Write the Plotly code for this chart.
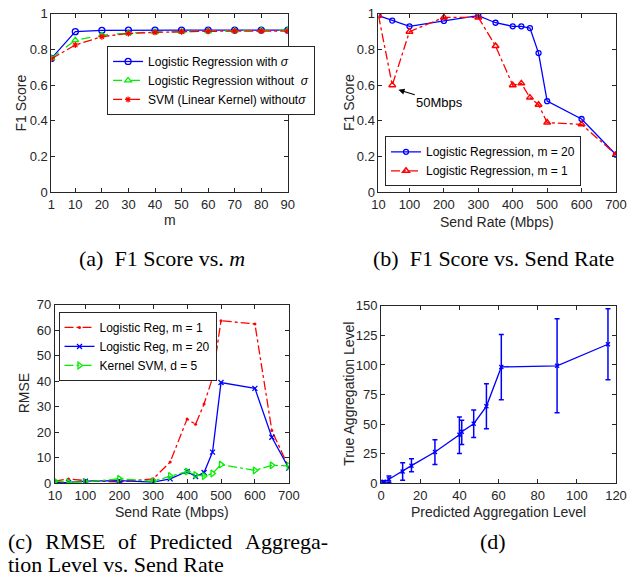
import plotly.graph_objects as go

W, H = 637, 585

# ---------------- data ----------------
# (a) F1 score vs m
m_vals = [1, 10, 20, 30, 40, 50, 60, 70, 80, 90]
lr_with_sigma = [0.75, 0.90, 0.907, 0.909, 0.909, 0.909, 0.909, 0.909, 0.909, 0.909]
lr_without_sigma = [0.752, 0.852, 0.88, 0.892, 0.898, 0.90, 0.903, 0.905, 0.907, 0.909]
svm_without_sigma = [0.748, 0.825, 0.872, 0.89, 0.896, 0.90, 0.902, 0.903, 0.903, 0.903]

# (b) F1 score vs send rate
rate_b = [10, 50, 100, 200, 300, 350, 400, 425, 450, 475, 500, 600, 700]
f1_m20 = [0.99, 0.962, 0.93, 0.96, 0.99, 0.95, 0.93, 0.93, 0.92, 0.78, 0.51, 0.41, 0.21]
f1_m1 = [0.99, 0.60, 0.90, 0.98, 0.98, 0.82, 0.60, 0.61, 0.53, 0.49, 0.39, 0.38, 0.21]

# (c) RMSE vs send rate
rate_c = [10, 50, 100, 200, 300, 350, 400, 425, 450, 475, 500, 600, 650, 700]
rmse_m1 = [0.76, 1.66, 1.0, 0.5, 1.7, 8.3, 25.2, 23.1, 31.1, 41.3, 63.8, 62.5, 20.7, 6.1]
rmse_m20 = [0.25, 0.3, 0.8, 1.0, 0.4, 1.7, 4.6, 2.6, 4.2, 12.2, 39.5, 37.2, 18.0, 5.9]
rmse_svm = [0.8, 0.3, 0.5, 1.7, 0.8, 2.8, 4.6, 3.2, 2.8, 3.8, 7.3, 5.0, 7.0, 6.8]

# (d) true vs predicted aggregation level
pred_level = [1.0, 1.5, 4.0, 11.0, 15.5, 27.5, 40.0, 41.2, 47.3, 53.8, 61.4, 89.9, 115.9]
true_level = [1.0, 1.2, 3.3, 9.9, 14.8, 26.4, 40.9, 43.5, 50.3, 65.0, 98.3, 99.3, 117.5]
true_upper = [1.8, 2.0, 6.0, 17.3, 20.6, 36.8, 56.0, 53.3, 61.8, 84.0, 125.8, 139.0, 147.5]
true_lower = [0.2, 0.4, 0.8, 2.5, 9.6, 15.9, 25.0, 32.7, 38.7, 46.0, 70.5, 59.5, 87.5]

ticks_a_x = [1, 10, 20, 30, 40, 50, 60, 70, 80, 90]
ticks_f1 = [0, 0.2, 0.4, 0.6, 0.8, 1]
f1_text = ["0", "0.2", "0.4", "0.6", "0.8", "1"]
ticks_rate = [10, 100, 200, 300, 400, 500, 600, 700]
ticks_rmse = [0, 10, 20, 30, 40, 50, 60, 70]
ticks_d_x = [0, 20, 40, 60, 80, 100, 120]
ticks_d_y = [0, 25, 50, 75, 100, 125, 150]

BLUE = "#0000ff"
RED = "#ff0000"
GREEN = "#00ee00"
AX = "#262626"
SANS = "Liberation Sans, Arial, sans-serif"
SERIF = "Liberation Serif, Times New Roman, serif"

fig = go.Figure()

# (a)
fig.add_trace(go.Scatter(x=m_vals, y=lr_with_sigma, mode="lines+markers",
    name="Logistic Regression with <i>σ</i>", line=dict(color=BLUE, width=1.3),
    marker=dict(symbol="circle-open", size=6, line=dict(width=1.3)), xaxis="x", yaxis="y", legend="legend"))
fig.add_trace(go.Scatter(x=m_vals, y=lr_without_sigma, mode="lines+markers",
    name="Logistic Regression without  <i>σ</i>", line=dict(color=GREEN, width=1.3, dash="dash"),
    marker=dict(symbol="triangle-up-open", size=6, line=dict(width=1.3)), xaxis="x", yaxis="y", legend="legend"))
fig.add_trace(go.Scatter(x=m_vals, y=svm_without_sigma, mode="lines+markers",
    name="SVM (Linear Kernel) without<i>σ</i>", line=dict(color=RED, width=1.3, dash="dashdot"),
    marker=dict(symbol="asterisk-open", size=5, line=dict(width=1.2, color=RED)), xaxis="x", yaxis="y", legend="legend"))

# (b)
fig.add_trace(go.Scatter(x=rate_b, y=f1_m20, mode="lines+markers",
    name="Logistic Regression, m = 20", line=dict(color=BLUE, width=1.3),
    marker=dict(symbol="circle-open", size=5, line=dict(width=1.3)), xaxis="x2", yaxis="y2", legend="legend2"))
fig.add_trace(go.Scatter(x=rate_b, y=f1_m1, mode="lines+markers",
    name="Logistic Regression, m = 1", line=dict(color=RED, width=1.3, dash="dashdot"),
    marker=dict(symbol="triangle-up-open", size=6, line=dict(width=1.5)), xaxis="x2", yaxis="y2", legend="legend2"))

# (c)
fig.add_trace(go.Scatter(x=rate_c, y=rmse_m1, mode="lines+markers",
    name="Logistic Reg, m = 1", line=dict(color=RED, width=1.3, dash="dashdot"),
    marker=dict(symbol="circle", size=3), xaxis="x3", yaxis="y3", legend="legend3"))
fig.add_trace(go.Scatter(x=rate_c, y=rmse_m20, mode="lines+markers",
    name="Logistic Reg, m = 20", line=dict(color=BLUE, width=1.3),
    marker=dict(symbol="x-thin-open", size=5, line=dict(width=1.3, color=BLUE)), xaxis="x3", yaxis="y3", legend="legend3"))
fig.add_trace(go.Scatter(x=rate_c, y=rmse_svm, mode="lines+markers",
    name="Kernel SVM, d = 5", line=dict(color=GREEN, width=1.3, dash="dashdot"),
    marker=dict(symbol="triangle-right-open", size=6, line=dict(width=1.3)), xaxis="x3", yaxis="y3", legend="legend3"))

# (d)
err_plus = [u - t for u, t in zip(true_upper, true_level)]
err_minus = [t - l for t, l in zip(true_level, true_lower)]
fig.add_trace(go.Scatter(x=pred_level, y=true_level, mode="lines+markers",
    line=dict(color=BLUE, width=1.3),
    marker=dict(symbol="x-thin-open", size=4, line=dict(width=1.3, color=BLUE)),
    error_y=dict(type="data", symmetric=False, array=err_plus, arrayminus=err_minus,
                 color=BLUE, thickness=1.5, width=2.5),
    showlegend=False, xaxis="x4", yaxis="y4"))


def ax(domain, rng, tickvals, anchor, ticktext=None):
    d = dict(domain=domain, range=rng, tickvals=tickvals, anchor=anchor,
             showline=True, mirror="ticks", linecolor=AX, linewidth=1,
             ticks="inside", ticklen=4, tickcolor=AX, showgrid=False, zeroline=False,
             tickfont=dict(family=SANS, size=13, color=AX))
    if ticktext is not None:
        d["ticktext"] = ticktext
    return d


xa_dom = [45.7 / W, 289 / W]
xb_dom = [382.3 / W, 626.7 / W]
xc_dom = [49.3 / W, 290 / W]
xd_dom = [385 / W, 626.7 / W]
ytop_dom = [1 - 190 / H, 1 - 7 / H]
yc_dom = [1 - 488.7 / H, 1 - 305.7 / H]
yd_dom = [1 - 488.7 / H, 1 - 306.7 / H]

legend_common = dict(bgcolor="white", bordercolor=AX, borderwidth=1,
                     font=dict(family=SANS, size=12, color="black"),
                     xanchor="left", tracegroupgap=0, itemwidth=30)

fig.update_layout(
    width=W, height=H, margin=dict(l=0, r=0, t=0, b=0),
    paper_bgcolor="white", plot_bgcolor="white",
    xaxis=ax(xa_dom, [1, 90], ticks_a_x, "y"),
    yaxis=ax(ytop_dom, [0, 1], ticks_f1, "x", f1_text),
    xaxis2=ax(xb_dom, [10, 700], ticks_rate, "y2"),
    yaxis2=ax(ytop_dom, [0, 1], ticks_f1, "x2", f1_text),
    xaxis3=ax(xc_dom, [10, 700], ticks_rate, "y3"),
    yaxis3=ax(yc_dom, [0, 70], ticks_rmse, "x3"),
    xaxis4=ax(xd_dom, [0, 120], ticks_d_x, "y4"),
    yaxis4=ax(yd_dom, [0, 150], ticks_d_y, "x4"),
    legend=dict(legend_common, x=103 / W, y=1 - 40 / H, yanchor="top"),
    legend2=dict(legend_common, x=389 / W, y=1 - 184 / H, yanchor="bottom"),
    legend3=dict(legend_common, x=53 / W, y=1 - 313 / H, yanchor="top"),
)

# axis titles
tfont = dict(family=SANS, size=14, color=AX)
def title(text, xpx, ypx, rot=0):
    fig.add_annotation(xref="paper", yref="paper", x=xpx / W, y=1 - ypx / H, text=text,
                       showarrow=False, textangle=rot, font=tfont,
                       xanchor="center", yanchor="middle")

title("m", (45.7 + 289) / 2, 219)
title("Send Rate (Mbps)", (382.3 + 626.7) / 2, 221)
title("Send Rate (Mbps)", (49.3 + 290) / 2, 518)
title("Predicted Aggregation Level", (385 + 626.7) / 2, 518)
title("F1 Score", 14, 98.5, -90)
title("F1 Score", 352, 98.5, -90)
title("RMSE", 17, 397, -90)
title("True Aggregation Level", 352, 397, -90)

# annotation in (b)
fig.add_annotation(xref="x2", yref="y2", x=68, y=0.574, axref="x2", ayref="y2",
                   ax=188, ay=0.503, text="50Mbps", showarrow=True, arrowhead=2,
                   arrowsize=1, arrowwidth=1.2, arrowcolor="black",
                   font=dict(family=SANS, size=13, color="black"))

# captions
cap_font = dict(family=SERIF, size=22, color="black")
def caption(text, xpx, ypx, anchor="center"):
    fig.add_annotation(xref="paper", yref="paper", x=xpx / W, y=1 - ypx / H, showarrow=False,
                       text=text, font=cap_font, xanchor=anchor, yanchor="middle")

G = "\u00a0\u00a0\u200a"
caption("(a)  F1 Score vs. <i>m</i>", 160, 258)
caption("(b)  F1 Score vs. Send Rate", 501, 258)
caption("(c)" + G + "RMSE" + G + "of" + G + "Predicted" + G + "Aggrega-", -1, 549, "left")
caption("tion Level vs. Send Rate", -1, 572, "left")
caption("(d)", 500, 549)

fig.write_html("out.html")
